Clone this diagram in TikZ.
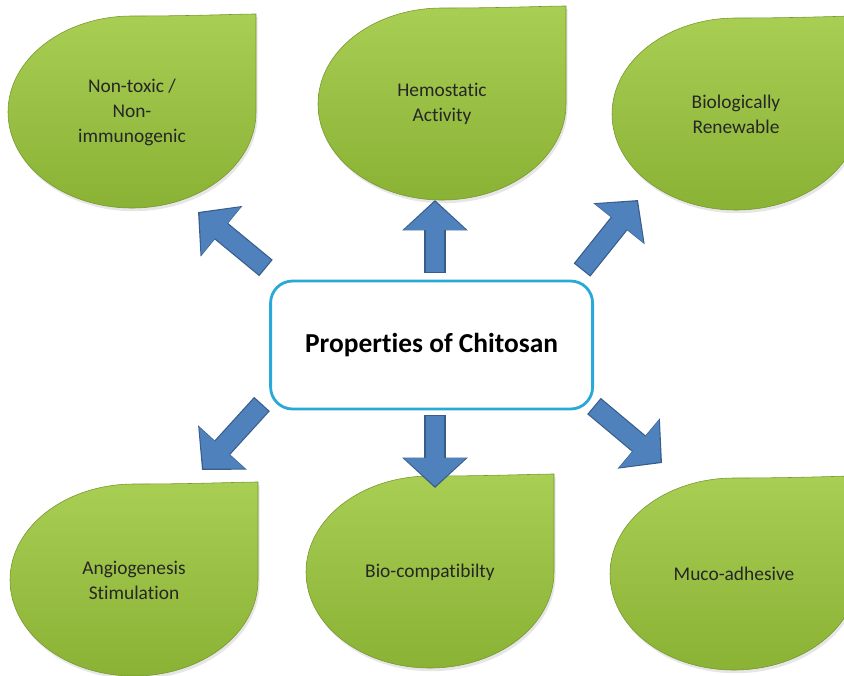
\documentclass[tikz,border=0pt]{standalone}
\usepackage{fontspec}
\setmainfont{Carlito}[Ligatures=CommonOff]
\usetikzlibrary{arrows.meta,shadows}

\definecolor{leaftop}{RGB}{168,206,84}
\definecolor{leafbottom}{RGB}{138,178,52}
\definecolor{leafedge}{RGB}{118,150,45}
\definecolor{arrowblue}{RGB}{79,129,189}
\definecolor{arrowedge}{RGB}{56,93,138}
\definecolor{coreedge}{RGB}{42,168,216}

\tikzset{
  leaf/.style={draw=leafedge, line width=0.4pt, top color=leaftop, bottom color=leafbottom,
    drop shadow={opacity=0.2, shadow xshift=0.04cm, shadow yshift=-0.08cm}},
  leaftext/.style={align=center, text=black!85, font=\fontsize{13.8}{17.8}\selectfont},
  corebox/.style={draw=coreedge, line width=2pt, rounded corners=0.55cm, fill=white,
    minimum width=8.05cm, minimum height=3.2cm, font=\bfseries\fontsize{19.5}{23}\selectfont},
  arrowrim/.style={draw=arrowedge, line width=0.53cm, -{Triangle[length=0.76cm, width=1.6cm]}},
  arrowbody/.style={draw=arrowblue, line width=0.47cm, shorten >=0.045cm, shorten <=0.03cm,
    -{Triangle[length=0.7cm, width=1.5cm]}},
}

% green drop with its label: #1 name, #2 centre, #3 label
\newcommand{\propleaf}[3]{%
  \begin{scope}[shift={#2}]
    \path[leaf] (3.1,0) arc[start angle=0, end angle=-270, x radius=3.1, y radius=2.4]
      .. controls (1.6,2.4) and (2.6,2.45) .. (3.1,2.45)
      .. controls (3.1,1.7) and (3.1,0.8) .. (3.1,0) -- cycle;
    \node[leaftext] (#1) at (0,0) {#3};
  \end{scope}}
% fat blue arrow with a darker rim
\newcommand{\blockarrow}[2]{%
  \draw[arrowrim] (#1) -- (#2);
  \draw[arrowbody] (#1) -- (#2);}

\begin{document}
\begin{tikzpicture}
  \useasboundingbox (0,0) rectangle (21.1,-16.875);

  \propleaf{nontoxic}{(3.3,-2.8)}{Non-toxic /\\Non-\\immunogenic}
  \propleaf{hemostatic}{(11.05,-2.6)}{Hemostatic\\Activity}
  \propleaf{renewable}{(18.4,-2.85)}{Biologically\\Renewable}
  \propleaf{angiogenesis}{(3.35,-14.5)}{Angiogenesis\\Stimulation}
  \propleaf{biocompat}{(10.75,-14.3)}{Bio-compatibilty}
  \propleaf{mucoadhesive}{(18.35,-14.35)}{Muco-adhesive}

  \node[corebox] (core) at (10.79,-8.625) {Properties of Chitosan};

  % arrow ends
  \coordinate (ul-tail) at (6.65,-6.7);    \coordinate (ul-tip) at (4.95,-5.3);
  \coordinate (up-tail) at (10.875,-6.825); \coordinate (up-tip) at (10.875,-5.0);
  \coordinate (ur-tail) at (14.55,-6.75);   \coordinate (ur-tip) at (15.95,-5.0);
  \coordinate (ll-tail) at (6.55,-10.1);    \coordinate (ll-tip) at (5.05,-11.75);
  \coordinate (dn-tail) at (10.875,-10.375); \coordinate (dn-tip) at (10.875,-12.2);
  \coordinate (lr-tail) at (14.85,-10.15);  \coordinate (lr-tip) at (16.55,-11.575);

  \blockarrow{ul-tail}{ul-tip}
  \blockarrow{up-tail}{up-tip}
  \blockarrow{ur-tail}{ur-tip}
  \blockarrow{ll-tail}{ll-tip}
  \blockarrow{dn-tail}{dn-tip}
  \blockarrow{lr-tail}{lr-tip}
\end{tikzpicture}
\end{document}
